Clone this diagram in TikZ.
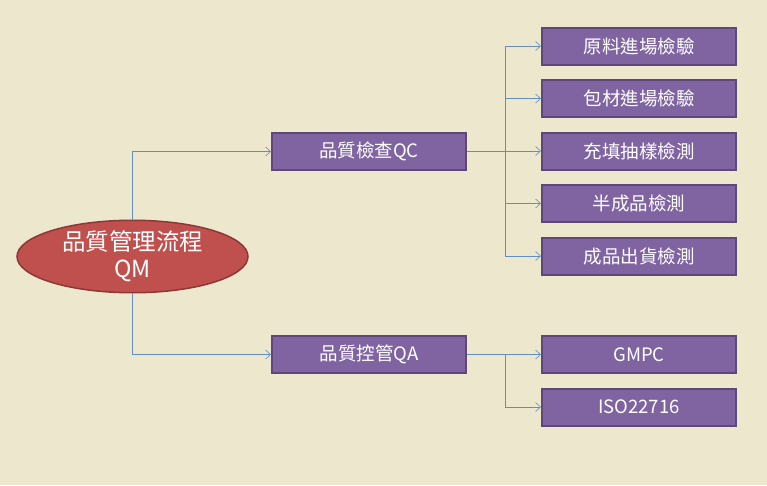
\documentclass[tikz,border=0pt]{standalone}
\usepackage{fontspec}
\setmainfont{Noto Sans CJK TC}
\usetikzlibrary{arrows.meta}
\usetikzlibrary{positioning}
\usetikzlibrary{shapes.geometric}
\definecolor{paper}{RGB}{237,231,206}
\definecolor{topicfill}{RGB}{192,80,77}
\definecolor{topicline}{RGB}{140,56,54}
\definecolor{itemfill}{RGB}{128,100,162}
\definecolor{itemline}{RGB}{94,72,120}
\definecolor{linkblue}{RGB}{98,142,196}
\tikzset{
  topic/.style={ellipse, draw=topicline, fill=topicfill, line width=1.5pt,
    minimum width=231pt, minimum height=67pt, inner sep=0, align=center,
    text=white, font=\fontsize{23.5}{27}\selectfont},
  item/.style={rectangle, draw=itemline, fill=itemfill, line width=2pt,
    minimum width=194pt, minimum height=37pt, inner sep=0,
    text=white, font=\fontsize{18.5}{21}\selectfont},
  link/.style={-{Straight Barb[length=5pt,width=9pt]}, draw=linkblue, line width=0.6pt}
}

\begin{document}
\begin{tikzpicture}[x=1pt,y=-1pt]

  \fill[paper] (0,0) rectangle (767,485);
  \useasboundingbox (0,0) rectangle (767,485);

  \node[topic] (qm) at (132.5,256.5) {品質管理流程\\QM};

  \node[item] (qc) at (369,151.5) {品質檢查QC};
  \node[item] (qa) at (369,354.5) {品質控管QA};

  % QC branch
  \node[item] (raw) at (639,46) {原料進場檢驗};
  \node[item, below=13.5pt of raw] (pack) {包材進場檢驗};
  \node[item, below=13.5pt of pack] (fill) {充填抽樣檢測};
  \node[item, below=13.5pt of fill] (semi) {半成品檢測};
  \node[item, below=13.5pt of semi] (final) {成品出貨檢測};

  % QA branch
  \node[item] (gmpc) at (639,354.5) {GMPC};
  \node[item, below=13.5pt of gmpc] (iso) {ISO22716};

  \coordinate (qcfork) at (505,151.5);
  \coordinate (qafork) at (505,354.5);

  \draw[link] (qm.north) |- (qc.west);
  \draw[link] (qm.south) |- (qa.west);

  \foreach \n in {raw,pack,fill,semi,final}
    \draw[link] (qc.east) -- (qcfork) |- (\n.west);
  \foreach \n in {gmpc,iso}
    \draw[link] (qa.east) -- (qafork) |- (\n.west);

\end{tikzpicture}
\end{document}
